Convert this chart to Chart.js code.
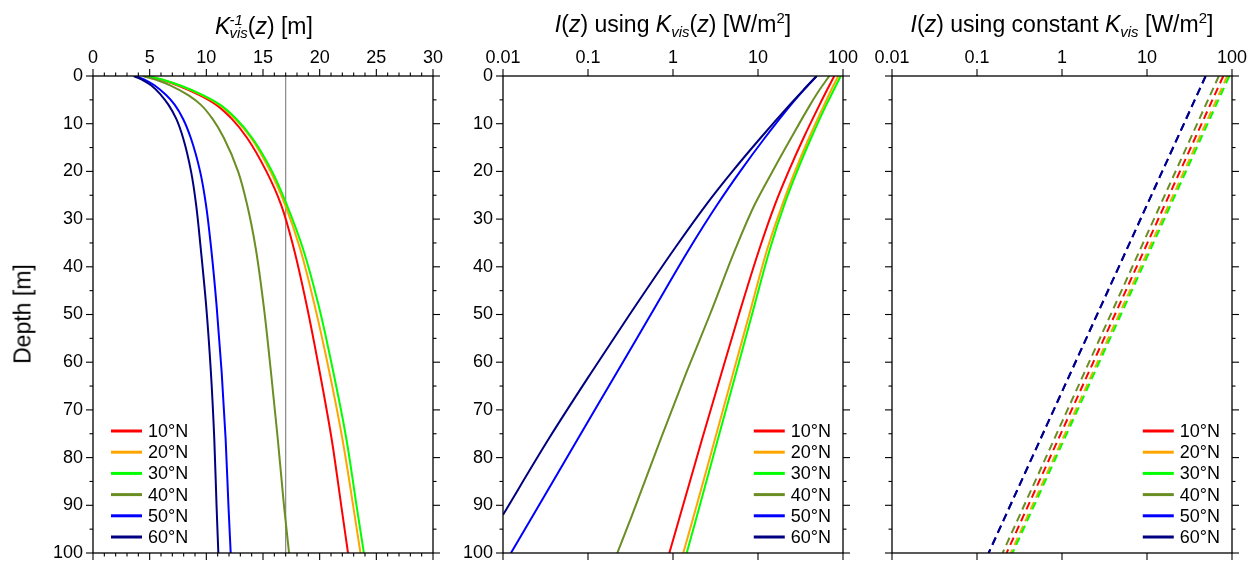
<!DOCTYPE html>
<html>
<head>
<meta charset="utf-8">
<script src="https://cdn.jsdelivr.net/npm/chart.js@4.4.1/dist/chart.umd.min.js"></script>
<style>
  body { margin: 0; background: #fff; font-family: "Liberation Sans", Arial, sans-serif; }
  #fig { position: relative; width: 1260px; height: 564px; overflow: hidden; }
  #fig canvas { position: absolute; top: 0; }
  .ttl { position: absolute; top: 13px; font-size: 23px; line-height: 23px; color: #000; white-space: nowrap; transform: translateX(-50%); }
  .ttl sub, .ttl sup { font-size: 15px; line-height: 0; }
  .ttl sub { vertical-align: -5px; }
  .ttl sup { vertical-align: 9px; }
  .stack { display: inline-flex; flex-direction: column; font-size: 15px; line-height: 13px; vertical-align: 9px; margin-left: -1px; }
  .ylab { position: absolute; left: 23px; top: 314px; font-size: 23px; white-space: nowrap; transform: translate(-50%, -50%) rotate(-90deg); }
</style>
</head>
<body>
<div id="fig">
  <canvas id="c1" width="450" height="564" style="left:0px"></canvas>
  <canvas id="c2" width="410" height="564" style="left:450px"></canvas>
  <canvas id="c3" width="400" height="564" style="left:860px"></canvas>
  <div class="ttl" style="left:264px"><i>K</i><span class="stack"><i>-1</i><i>vis</i></span>(<i>z</i>) [m]</div>
  <div class="ttl" style="left:673px"><i>I</i>(<i>z</i>) using <i>K<sub>vis</sub></i>(<i>z</i>) [W/m<sup>2</sup>]</div>
  <div class="ttl" style="left:1062px"><i>I</i>(<i>z</i>) using constant <i>K<sub>vis</sub></i> [W/m<sup>2</sup>]</div>
  <div class="ylab">Depth [m]</div>
</div>
<script>
// latitudes shown in every panel
const latLabels = ['10°N', '20°N', '30°N', '40°N', '50°N', '60°N'];
const latColors = ['#ff0000', '#ffa500', '#00ff00', '#6b8e23', '#0000ff', '#000080'];

// left panel: inverse attenuation length K^-1 (m) against depth
const depthK = [0, 1, 2, 4, 6, 9, 13, 20, 27, 36, 48, 62, 76, 90, 100];
const kInv10 = [4.7, 6.3, 7.5, 9.4, 10.85, 12.25, 13.6, 15.3, 16.6, 17.7, 18.85, 20.0, 21.05, 21.9, 22.5];
const kInv20 = [4.8, 6.4, 7.65, 9.6, 11.1, 12.55, 13.95, 15.65, 16.95, 18.25, 19.55, 20.85, 22.0, 22.95, 23.6];
const kInv30 = [4.8, 6.45, 7.7, 9.7, 11.2, 12.65, 14.05, 15.8, 17.1, 18.5, 19.9, 21.2, 22.35, 23.25, 23.9];
const kInv40 = [4.4, 5.8, 6.85, 8.4, 9.5, 10.55, 11.55, 12.8, 13.6, 14.35, 15.05, 15.7, 16.3, 16.85, 17.3];
const kInv50 = [3.8, 4.75, 5.45, 6.45, 7.2, 7.95, 8.63, 9.45, 9.97, 10.42, 10.9, 11.35, 11.7, 11.95, 12.15];
const kInv60 = [3.6, 4.5, 5.15, 6.0, 6.65, 7.35, 7.95, 8.65, 9.1, 9.5, 9.98, 10.4, 10.7, 10.9, 11.06];
const kConstInv = 17;

// middle panel: irradiance with depth-varying K (W/m2)
const depthI = [0, 3, 6, 13, 20, 27, 36, 50, 62, 76, 92, 100];
const iVar10 = [79, 64.6, 53.1, 34.3, 22.9, 15.8, 10.5, 5.96, 3.76, 2.21, 1.22, 0.905];
const iVar20 = [88, 72.4, 60.3, 39.8, 27.2, 19.3, 13.0, 7.9, 5.15, 3.13, 1.77, 1.32];
const iVar30 = [94, 77.6, 63.8, 42.2, 28.8, 20.4, 13.96, 8.5, 5.57, 3.39, 1.93, 1.45];
const iVar40 = [69, 52.5, 41.2, 24.5, 14.8, 9.12, 5.5, 2.72, 1.45, 0.72, 0.331, 0.221];
const iVar50 = [49, 34.3, 24.5, 12.0, 6.17, 3.31, 1.585, 0.548, 0.221, 0.0764, 0.0228, 0.0124];
const iVar60 = [49, 33.9, 23.7, 10.7, 5.0, 2.45, 1.06, 0.309, 0.111, 0.0347, 0.01, null];

// right panel: irradiance with constant K (W/m2)
const depthC = [0, 100];
const iCon10 = [79, 0.223];
const iCon20 = [88, 0.25];
const iCon30 = [93, 0.262];
const iCon40 = [70, 0.2];
const iCon50 = [49, 0.137];
const iCon60 = [49, 0.137];

// axis ticks
const kTicks = [0, 5, 10, 15, 20, 25, 30];
const logTicks = [0.01, 0.1, 1, 10, 100];
const depthTicks = [0, 10, 20, 30, 40, 50, 60, 70, 80, 90, 100];

const FONT = '"Liberation Sans", Arial, sans-serif';

function toPoints(depths, vals) {
  const pts = [];
  depths.forEach((d, i) => { if (vals[i] != null) pts.push({ x: vals[i], y: d }); });
  return pts;
}

function latSets(depths, series, dash) {
  return series.map((vals, i) => ({
    label: latLabels[i],
    data: toPoints(depths, vals),
    borderColor: latColors[i],
    borderWidth: 2,
    borderDash: dash || [],
    pointRadius: 0,
    showLine: true,
    cubicInterpolationMode: 'monotone',
    order: latLabels.length - i
  }));
}

// frame with outward ticks on all four sides
const framePlugin = {
  id: 'frame',
  afterDraw(chart, args, o) {
    const { ctx, chartArea: a, scales } = chart;
    const line = (x1, y1, x2, y2) => { ctx.beginPath(); ctx.moveTo(x1, y1); ctx.lineTo(x2, y2); ctx.stroke(); };
    ctx.save();
    ctx.strokeStyle = '#000';
    ctx.lineWidth = 1.3;
    ctx.strokeRect(a.left, a.top, a.right - a.left, a.bottom - a.top);
    ctx.lineWidth = 1.1;
    o.xMajor.forEach(v => {
      const x = scales.x.getPixelForValue(v);
      line(x, a.top, x, a.top - 7); line(x, a.bottom, x, a.bottom + 7);
    });
    (o.xMinor || []).forEach(v => {
      const x = scales.x.getPixelForValue(v);
      line(x, a.top, x, a.top - 3.5); line(x, a.bottom, x, a.bottom + 3.5);
    });
    depthTicks.forEach(v => {
      const y = scales.y.getPixelForValue(v);
      line(a.left, y, a.left - 7, y); line(a.right, y, a.right + 7, y);
      if (v < 100) {
        const ym = scales.y.getPixelForValue(v + 5);
        line(a.left, ym, a.left - 3.5, ym); line(a.right, ym, a.right + 3.5, ym);
      }
    });
    ctx.restore();
  }
};

// legend drawn inside the plot area
const boxLegend = {
  id: 'boxLegend',
  afterDraw(chart, args, o) {
    const { ctx, chartArea: a } = chart;
    ctx.save();
    ctx.font = '18px ' + FONT;
    const tw = Math.max(...latLabels.map(t => ctx.measureText(t).width));
    const x0 = o.align === 'left' ? a.left + 18 : a.right - 12 - tw - 37;
    const rowH = 21.2;
    const y0 = a.bottom - 122;
    latLabels.forEach((t, i) => {
      const y = y0 + i * rowH;
      ctx.strokeStyle = latColors[i];
      ctx.lineWidth = 3;
      ctx.beginPath(); ctx.moveTo(x0, y); ctx.lineTo(x0 + 31, y); ctx.stroke();
      ctx.fillStyle = '#000';
      ctx.textBaseline = 'middle';
      ctx.fillText(t, x0 + 37, y + 1);
    });
    ctx.restore();
  }
};

function makePanel(id, cfg) {
  const xScale = {
    type: cfg.xType,
    position: 'top',
    min: cfg.xMin,
    max: cfg.xMax,
    afterBuildTicks: s => { s.ticks = cfg.xTicks.map(v => ({ value: v })); },
    afterFit: s => { s.height = 76; s.paddingLeft = 0; s.paddingRight = 0; },
    ticks: { callback: v => String(v), font: { family: FONT, size: 18 }, color: '#000', padding: 7, maxRotation: 0, autoSkip: false },
    grid: { display: false, drawTicks: false, tickLength: 0 },
    border: { display: false }
  };
  const yScale = {
    type: 'linear',
    position: 'left',
    reverse: true,
    min: 0,
    max: 100,
    afterBuildTicks: s => { s.ticks = depthTicks.map(v => ({ value: v })); },
    afterFit: s => { s.width = cfg.yWidth; s.paddingTop = 0; s.paddingBottom = 0; },
    ticks: { display: cfg.yLabels, font: { family: FONT, size: 18 }, color: '#000', padding: 10, autoSkip: false },
    grid: { display: false, drawTicks: false, tickLength: 0 },
    border: { display: false }
  };
  return new Chart(document.getElementById(id), {
    type: 'scatter',
    data: { datasets: cfg.datasets },
    options: {
      responsive: false,
      animation: false,
      indexAxis: 'y',
      layout: { padding: { top: 0, right: cfg.padRight, bottom: 11, left: 0 } },
      scales: { x: xScale, y: yScale },
      plugins: {
        legend: { display: false },
        tooltip: { enabled: false },
        frame: { xMajor: cfg.xTicks, xMinor: cfg.xMinor },
        boxLegend: { align: cfg.legendAlign }
      }
    },
    plugins: [framePlugin, boxLegend]
  });
}

const kMinor = [];
for (let v = 0; v <= 30; v++) if (v % 5) kMinor.push(v);

const refLine = {
  label: 'constant',
  data: [{ x: kConstInv, y: 0 }, { x: kConstInv, y: 100 }],
  borderColor: '#888888',
  borderWidth: 1.2,
  pointRadius: 0,
  showLine: true,
  order: 20
};

makePanel('c1', {
  xType: 'linear', xMin: 0, xMax: 30, xTicks: kTicks, xMinor: kMinor,
  yWidth: 93, yLabels: true, padRight: 17, legendAlign: 'left',
  datasets: [refLine].concat(latSets(depthK, [kInv10, kInv20, kInv30, kInv40, kInv50, kInv60]))
});

makePanel('c2', {
  xType: 'logarithmic', xMin: 0.01, xMax: 100, xTicks: logTicks,
  yWidth: 53, yLabels: true, padRight: 17, legendAlign: 'right',
  datasets: latSets(depthI, [iVar10, iVar20, iVar30, iVar40, iVar50, iVar60])
});

makePanel('c3', {
  xType: 'logarithmic', xMin: 0.01, xMax: 100, xTicks: logTicks,
  yWidth: 32, yLabels: false, padRight: 28, legendAlign: 'right',
  datasets: latSets(depthC, [iCon10, iCon20, iCon30, iCon40, iCon50, iCon60], [8, 5])
});
</script>
</body>
</html>
